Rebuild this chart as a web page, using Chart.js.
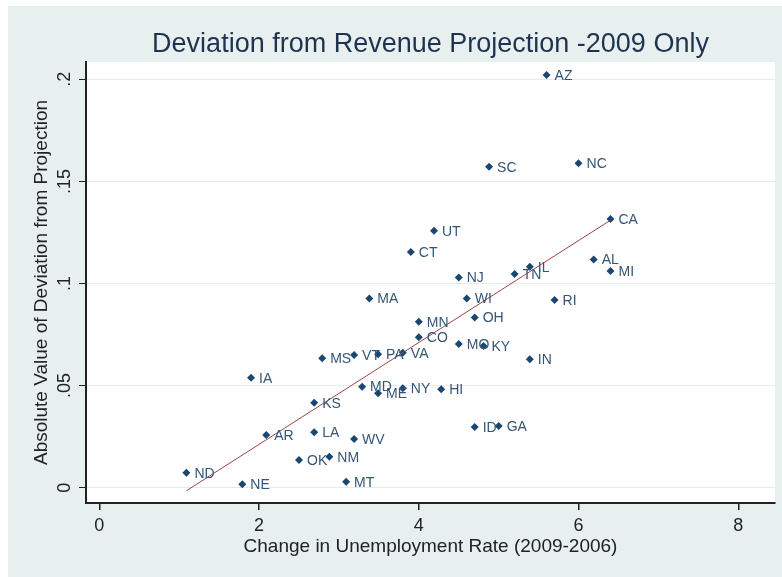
<!DOCTYPE html>
<html>
<head>
<meta charset="utf-8">
<script src="https://cdn.jsdelivr.net/npm/chart.js@4.4.1/dist/chart.umd.min.js"></script>
<style>
html,body{margin:0;padding:0;background:#fff;}
</style>
</head>
<body>
<canvas id="chart" width="782" height="577"></canvas>
<script>
// state labels and values
const states = ["AZ","SC","NC","CA","UT","CT","AL","MI","IL","TN","NJ",
"WI","RI","MN","OH","CO","MO","KY","VA","IN","NY","HI","ID","GA",
"MA","MS","VT","PA","IA","MD","ME","KS","AR","LA","WV","OK","NM","ND","NE","MT"];
const unempChange = [5.60,4.88,6.00,6.40,4.19,3.90,6.19,6.40,5.39,5.20,4.50,
4.60,5.70,4.00,4.70,4.00,4.50,4.81,3.80,5.39,3.80,4.28,4.70,5.00,
3.38,2.79,3.19,3.49,1.90,3.29,3.49,2.69,2.09,2.69,3.19,2.50,2.88,1.09,1.79,3.09];
const revDeviation = [.2021,.1572,.1589,.1316,.1259,.1154,.1118,.1061,.1082,.1047,.1030,
.0927,.0919,.0813,.0833,.0737,.0704,.0694,.0661,.0629,.0487,.0482,.0297,.0302,
.0927,.0634,.0650,.0653,.0539,.0495,.0462,.0416,.0258,.0271,.0238,.0136,.0152,.0073,.0017,.0029];

// fitted line end points
const fitX = [1.09, 6.40];
const fitY = [-0.0015, 0.1310];

const xTicks = [0,2,4,6,8];
const yTicks = [0,0.05,0.1,0.15,0.2];
const yTickLabels = ["0",".05",".1",".15",".2"];

const FONT = "Arial, 'Liberation Sans', sans-serif";

const decor = {
  id:"decor",
  beforeDraw(chart){
    const c = chart.ctx, a = chart.chartArea;
    c.save();
    c.fillStyle = "#fff";
    c.fillRect(0,0,chart.width,chart.height);
    c.fillStyle = "#e7efef";
    c.fillRect(8,6,chart.width-8,chart.height-6);
    c.fillStyle = "#fff";
    c.fillRect(a.left,a.top,a.right-a.left,a.bottom-a.top);
    c.restore();
  },
  afterDraw(chart){
    const c = chart.ctx, a = chart.chartArea;
    const xs = chart.scales.x, ys = chart.scales.y;
    c.save();
    // point labels
    c.font = "14px " + FONT;
    c.fillStyle = "#345676";
    c.textBaseline = "middle";
    c.textAlign = "left";
    states.forEach((s,i)=>{
      c.fillText(s, xs.getPixelForValue(unempChange[i]) + 8, ys.getPixelForValue(revDeviation[i]) + 1);
    });
    // y tick labels, rotated like the original
    c.font = "18px " + FONT;
    c.fillStyle = "#222";
    c.textAlign = "center";
    c.textBaseline = "middle";
    yTicks.forEach((v,i)=>{
      c.save();
      c.translate(65, ys.getPixelForValue(v));
      c.rotate(-Math.PI/2);
      c.fillText(yTickLabels[i],0,0);
      c.restore();
    });
    // axis titles
    c.font = "19px " + FONT;
    c.fillStyle = "#222";
    c.fillText("Change in Unemployment Rate (2009-2006)", (a.left+a.right)/2, 547);
    c.save();
    c.translate(42,(a.top+a.bottom)/2);
    c.rotate(-Math.PI/2);
    c.fillText("Absolute Value of Deviation from Projection",0,0);
    c.restore();
    // title
    c.font = "27px " + FONT;
    c.fillStyle = "#1e3350";
    c.textBaseline = "alphabetic";
    c.fillText("Deviation from Revenue Projection -2009 Only", (a.left+a.right)/2, 52);
    c.restore();
  }
};

new Chart(document.getElementById("chart"),{
  type:"scatter",
  data:{
    datasets:[
      {
        label:"states",
        data:states.map((s,i)=>({x:unempChange[i],y:revDeviation[i]})),
        pointStyle:"rectRot",
        pointRadius:4,
        pointBorderWidth:0,
        backgroundColor:"#1a476f",
        order:2
      },
      {
        label:"fit",
        type:"line",
        data:fitX.map((x,i)=>({x:x,y:fitY[i]})),
        borderColor:"#a04444",
        borderWidth:1,
        pointRadius:0,
        fill:false,
        order:1
      }
    ]
  },
  plugins:[decor],
  options:{
    responsive:false,
    animation:false,
    layout:{padding:{top:62,right:7,left:0,bottom:0}},
    plugins:{legend:{display:false},tooltip:{enabled:false}},
    scales:{
      x:{
        type:"linear",
        min:-0.167,
        max:8.46,
        afterBuildTicks:s=>{ s.ticks = xTicks.map(v=>({value:v})); },
        afterFit:s=>{ s.height = 74; },
        grid:{drawOnChartArea:false,drawTicks:true,tickLength:7,tickColor:"#222",lineWidth:1.5},
        border:{color:"#222",width:2},
        ticks:{font:{family:FONT,size:18},color:"#222",padding:5,maxRotation:0,
          callback:v=>String(v)}
      },
      y:{
        type:"linear",
        min:-0.0075,
        max:0.2085,
        afterBuildTicks:s=>{ s.ticks = yTicks.map(v=>({value:v})); },
        afterFit:s=>{ s.width = 86; },
        grid:{color:"#e3ecec",lineWidth:1,drawTicks:true,tickLength:7,tickColor:"#222"},
        border:{color:"#222",width:2},
        ticks:{color:"rgba(0,0,0,0)",font:{family:FONT,size:18}}
      }
    }
  }
});
</script>
</body>
</html>
